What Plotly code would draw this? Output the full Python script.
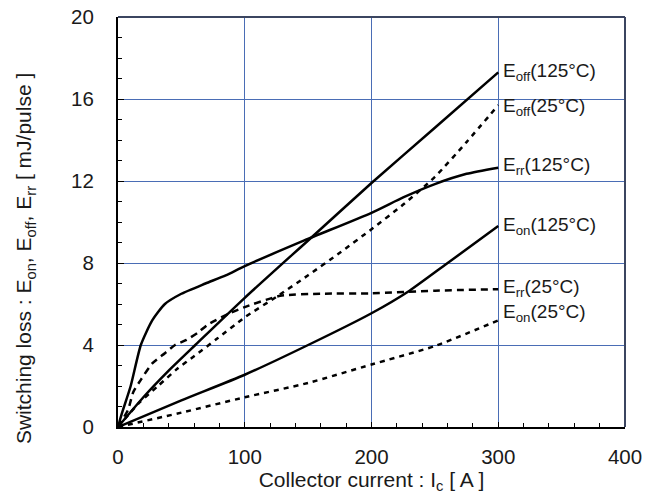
import plotly.graph_objects as go

# ---- data ----
eoff125_x = [0, 20, 40, 61, 100, 150, 200, 250, 300]
eoff125_y = [0, 1.45, 2.75, 4.0, 6.3, 9.1, 11.9, 14.6, 17.3]

eoff25_x = [0, 17, 31, 47, 60, 78, 100, 125, 150, 175, 200, 225, 250, 275, 300]
eoff25_y = [0, 1.2, 1.97, 2.85, 3.45, 4.3, 5.35, 6.35, 7.4, 8.5, 9.65, 10.85, 12.2, 13.9, 15.7]

err125_x = [0, 3, 10, 18, 27, 37, 50, 69, 85, 100, 147, 200, 225, 250, 275, 300]
err125_y = [0, 0.65, 2.0, 4.0, 5.2, 6.0, 6.5, 7.0, 7.4, 7.85, 9.1, 10.45, 11.2, 11.85, 12.35, 12.65]

eon125_x = [0, 50, 100, 150, 200, 230, 259, 300]
eon125_y = [0, 1.3, 2.55, 4.0, 5.55, 6.65, 7.95, 9.8]

err25_x = [0, 8, 12, 18, 27, 37, 45, 54, 63, 71, 88, 100, 128, 160, 200, 250, 300]
err25_y = [0, 0.85, 1.7, 2.3, 3.1, 3.6, 4.0, 4.25, 4.6, 5.0, 5.55, 5.85, 6.4, 6.5, 6.52, 6.65, 6.72]

eon25_x = [0, 50, 100, 150, 200, 250, 300]
eon25_y = [0, 0.7, 1.45, 2.15, 3.05, 3.95, 5.2]

labels = ["E<sub>off</sub>(125°C)", "E<sub>off</sub>(25°C)", "E<sub>rr</sub>(125°C)",
          "E<sub>on</sub>(125°C)", "E<sub>rr</sub>(25°C)", "E<sub>on</sub>(25°C)"]
label_y = [17.3, 15.6, 12.75, 9.8, 6.8, 5.55]

x_ticks = [0, 100, 200, 300, 400]
y_ticks = [0, 4, 8, 12, 16, 20]

x_title = "Collector current : I<sub>c</sub> [ A ]"
y_title = "Switching loss : E<sub>on</sub>, E<sub>off</sub>, E<sub>rr</sub> [ mJ/pulse ]"

FONT = "Liberation Sans, Arial, sans-serif"
TXT = "#1a1a1a"

fig = go.Figure()
series = [
    (eoff125_x, eoff125_y, "solid"),
    (eoff25_x, eoff25_y, "5px,5px"),
    (err125_x, err125_y, "solid"),
    (eon125_x, eon125_y, "solid"),
    (err25_x, err25_y, "7px,5px"),
    (eon25_x, eon25_y, "5px,5px"),
]
for xs, ys, dash in series:
    fig.add_trace(go.Scatter(x=xs, y=ys, mode="lines",
                             line=dict(color="black", width=2.5, dash=dash,
                                       shape="spline", smoothing=0.6),
                             showlegend=False, hoverinfo="skip"))

for txt, yv in zip(labels, label_y):
    fig.add_annotation(x=302, y=yv, text=txt, showarrow=False, xanchor="left",
                       yanchor="middle", font=dict(family=FONT, size=19, color=TXT))

# y-axis title (placed like the reference, centred on the chart area)
fig.add_annotation(xref="paper", yref="paper", x=-0.183, y=0.41, text=y_title,
                   textangle=-90, showarrow=False, xanchor="center", yanchor="middle",
                   font=dict(family=FONT, size=21, color=TXT))

grid = "#4a6db5"
fig.update_xaxes(range=[0, 400], tickvals=x_ticks, showgrid=True, gridcolor=grid,
                 gridwidth=1, zeroline=False, showline=True, linecolor="black", linewidth=2,
                 mirror=False, ticks="inside", ticklen=5, tickcolor="black",
                 minor=dict(dtick=20, ticks="inside", ticklen=4, tickcolor="black", showgrid=False),
                 tickfont=dict(family=FONT, size=20.5, color=TXT),
                 title=dict(text=x_title,
                            font=dict(family=FONT, size=21, color=TXT), standoff=2),
                 ticklabelstandoff=10, automargin=False, ticklabeloverflow="allow")
fig.update_yaxes(range=[0, 20], tickvals=y_ticks, showgrid=True, gridcolor=grid,
                 gridwidth=1, zeroline=False, showline=True, linecolor="black", linewidth=2,
                 mirror=False, ticks="inside", ticklen=6, tickcolor="black",
                 minor=dict(dtick=1, ticks="inside", ticklen=4, tickcolor="black", showgrid=False),
                 tickfont=dict(family=FONT, size=20.5, color=TXT),
                 ticklabelstandoff=18, automargin=False, ticklabeloverflow="allow")

# top and right frame lines
fig.add_shape(type="line", xref="paper", yref="paper", x0=0, x1=1, y0=1, y1=1,
              line=dict(color="#3b4560", width=2))
fig.add_shape(type="line", xref="paper", yref="paper", x0=1, x1=1, y0=0, y1=1,
              line=dict(color="#3b4560", width=2))

# page body adds an 8px offset, so the figure is sized to fit the window
fig.update_layout(width=650, height=491, plot_bgcolor="white", paper_bgcolor="white",
                  margin=dict(l=110, r=33, t=9, b=72), font=dict(family=FONT))

fig.write_html("out.html")
